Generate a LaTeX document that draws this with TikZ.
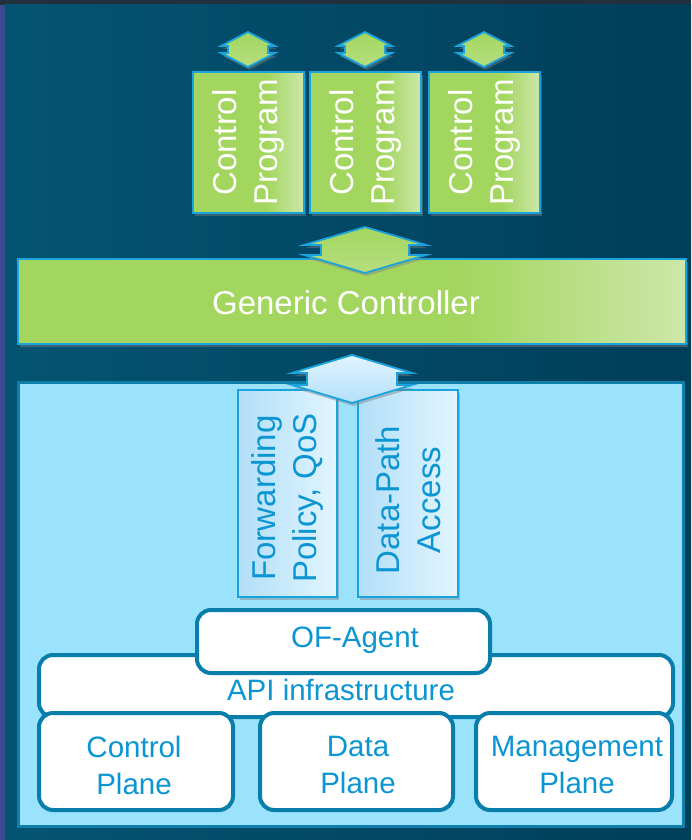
\documentclass[tikz,border=0pt]{standalone}
\usepackage{fontspec}
\setmainfont{Liberation Sans}
\usetikzlibrary{shadows}
\definecolor{bgA}{HTML}{035472}
\definecolor{bgB}{HTML}{013E5A}
\definecolor{stripTop}{HTML}{22303E}
\definecolor{stripLeft}{HTML}{3A4A8E}
\definecolor{gA}{HTML}{A3D65F}
\definecolor{gB}{HTML}{CDE7A9}
\definecolor{edgeBlue}{HTML}{1AA3DC}
\definecolor{panelFill}{HTML}{9BE3FC}
\definecolor{panelEdge}{HTML}{0D7FA8}
\definecolor{lbA}{HTML}{B2DFF8}
\definecolor{lbB}{HTML}{E2F5FF}
\definecolor{txtBlue}{HTML}{0B95D3}
\definecolor{boxEdge}{HTML}{0A7EAB}
\pgfdeclarehorizontalshading{greenfade}{100bp}{color(0bp)=(gA); color(25bp)=(gA); color(58bp)=(gA); color(75bp)=(gB); color(100bp)=(gB)}
\newcommand\udarrow[7]{%
  \draw[#7] (#1,#2) ++(0,-#6/2-#5) -- ++(-#3,#5) -- ++(#3-#4,0) -- ++(0,#6)
    -- ++(#4-#3,0) -- ++(#3,#5) -- ++(#3,-#5) -- ++(#4-#3,0) -- ++(0,-#6)
    -- ++(#3-#4,0) -- cycle;}
\tikzset{
  shd/.style={drop shadow={opacity=0.45, shadow xshift=1.5pt, shadow yshift=-3pt}},
  greenbox/.style={draw=edgeBlue, line width=2pt, shading=greenfade, shd, inner sep=0pt},
  bluebox/.style={draw=edgeBlue, line width=2pt, left color=lbA, right color=lbB, shd, inner sep=0pt},
  whitebox/.style={draw=boxEdge, line width=4pt, fill=white, rounded corners=14pt, inner sep=0pt},
  greenarrow/.style={draw=edgeBlue, line width=1.8pt, line join=miter, top color=gA, bottom color=gA!80!white, shd},
  bluearrow/.style={draw=edgeBlue, line width=1.8pt, line join=miter, top color=lbB, bottom color=lbA, shd},
  vtext/.style={rotate=90, align=center, font=\fontsize{33}{41}\selectfont},
  wtext/.style={text=white, font=\fontsize{33}{40}\selectfont},
  btext/.style={text=txtBlue, align=center, font=\fontsize{29.5}{37}\selectfont},
}
\begin{document}
\begin{tikzpicture}[x=1pt, y=-1pt]
\useasboundingbox (0,0) rectangle (691,840);
% background
\fill[stripTop] (0,0) rectangle (691,840);
\fill[stripLeft] (0,5) rectangle (5,840);
\shade[left color=bgA, right color=bgB] (5,5) rectangle (691,840);

% control programs
\node[greenbox, minimum width=111pt, minimum height=141pt] (cp1) at (248.5,142.5) {};
\node[greenbox, minimum width=111pt, minimum height=141pt] (cp2) at (365.5,142.5) {};
\node[greenbox, minimum width=111pt, minimum height=141pt] (cp3) at (484.5,142.5) {};
\node[vtext, text=white] (cp1t) at (cp1.center) {Control\\Program};
\node[vtext, text=white] (cp2t) at (cp2.center) {Control\\Program};
\node[vtext, text=white] (cp3t) at (cp3.center) {Control\\Program};
\udarrow{248}{49.5}{27}{20}{14}{7}{greenarrow}
\udarrow{365}{49.5}{27}{20}{14}{7}{greenarrow}
\udarrow{484}{49.5}{27}{20}{14}{7}{greenarrow}

% generic controller
\node[greenbox, minimum width=668pt, minimum height=85pt] (gc) at (352,301.5) {};
\node[wtext] (gct) at (346,303) {Generic Controller};
\udarrow{365}{250}{61}{44}{18}{10}{greenarrow}

% switch panel
\node[draw=panelEdge, line width=3pt, fill=panelFill, minimum width=665pt, minimum height=444pt, inner sep=0pt] (panel) at (350.5,604) {};
\node[bluebox, minimum width=99pt, minimum height=207pt] (fw) at (287.5,493.5) {};
\node[bluebox, minimum width=100pt, minimum height=207pt] (dp) at (408,493.5) {};
\node[vtext, text=txtBlue] (fwt) at (287.5,498) {Forwarding\\Policy, QoS};
\node[vtext, text=txtBlue] (dpt) at (408,500) {Data-Path\\Access};
\udarrow{352}{379}{60}{45}{18}{12}{bluearrow}

% device stack
\node[whitebox, minimum width=634pt, minimum height=62pt] (api) at (356,686) {};
\node[btext] (apit) at (341,690) {API infrastructure};
\node[whitebox, minimum width=293pt, minimum height=63pt] (of) at (343.5,641.5) {};
\node[btext] (oft) at (355,640) {OF-Agent};
\node[whitebox, minimum width=194pt, minimum height=97pt] (cpl) at (136,761.5) {};
\node[whitebox, minimum width=193pt, minimum height=97pt] (dpl) at (356.5,761.5) {};
\node[whitebox, minimum width=196pt, minimum height=97pt] (mpl) at (574,761.5) {};
\node[btext] (cplt) at (134,765) {Control\\Plane};
\node[btext] (dplt) at (358,765) {Data\\Plane};
\node[btext] (mplt) at (577,765) {Management\\Plane};
\end{tikzpicture}
\end{document}
